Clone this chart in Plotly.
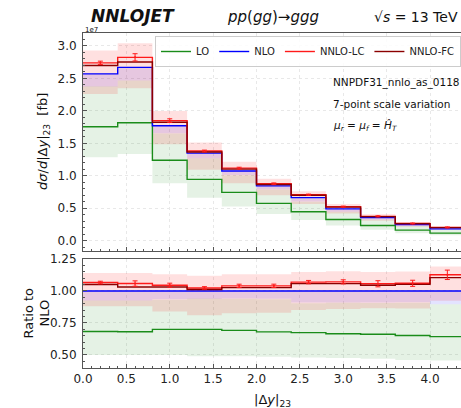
import plotly.graph_objects as go

# ---------------- data (cross sections in units of 1e7 fb) ----------------
bin_edges = [0.0, 0.4, 0.8, 1.2, 1.6, 2.0, 2.4, 2.8, 3.2, 3.6, 4.0, 4.4]

lo      = [1.755, 1.818, 1.239, 0.945, 0.744, 0.575, 0.447, 0.326, 0.235, 0.163, 0.117]
lo_dn   = [1.285, 1.335, 0.885, 0.662, 0.527, 0.410, 0.318, 0.233, 0.167, 0.115, 0.083]
lo_up   = [2.380, 2.470, 1.650, 1.270, 1.010, 0.790, 0.600, 0.445, 0.322, 0.227, 0.163]

nlo     = [2.570, 2.670, 1.770, 1.350, 1.075, 0.845, 0.663, 0.490, 0.355, 0.250, 0.182]
nlo_dn  = [2.377, 2.470, 1.655, 1.269, 1.011, 0.794, 0.603, 0.446, 0.323, 0.228, 0.163]
nlo_up  = [2.575, 2.675, 1.773, 1.352, 1.077, 0.847, 0.664, 0.491, 0.356, 0.251, 0.182]

nnlo_lc     = [2.740, 2.825, 1.850, 1.382, 1.118, 0.879, 0.709, 0.525, 0.375, 0.265, 0.205]
nnlo_lc_err = [0.026, 0.056, 0.028, 0.0135, 0.014, 0.011, 0.0086, 0.0078, 0.0085, 0.006, 0.0067]
nnlo_lc_dn  = [2.262, 2.350, 1.487, 1.094, 0.887, 0.701, 0.564, 0.421, 0.307, 0.216, 0.168]
nnlo_lc_up  = [2.930, 3.044, 2.000, 1.512, 1.215, 0.955, 0.762, 0.566, 0.408, 0.288, 0.217]

nnlo_fc = [2.699, 2.753, 1.825, 1.366, 1.103, 0.867, 0.701, 0.518, 0.371, 0.263, 0.201]

x_ticks = [0.0, 0.5, 1.0, 1.5, 2.0, 2.5, 3.0, 3.5, 4.0]
y_ticks_top = [0.0, 0.5, 1.0, 1.5, 2.0, 2.5, 3.0]
y_ticks_ratio = [0.50, 0.75, 1.00, 1.25]

# ---------------- helpers ----------------
centers = [(bin_edges[i] + bin_edges[i + 1]) / 2 for i in range(len(bin_edges) - 1)]

def steps(v):
    return list(v) + [v[-1]]

def ratio(v):
    return [a / b for a, b in zip(v, nlo)]

GREEN = "#1a8c1a"
BLUE = "#0000ff"
RED = "#ff1a1a"
DARKRED = "#8b0000"

fig = go.Figure()

def add_band(dn, up, color, xa, ya):
    fig.add_trace(go.Scatter(x=bin_edges, y=steps(dn), mode="lines",
                             line=dict(width=0, shape="hv"), showlegend=False,
                             hoverinfo="skip", xaxis=xa, yaxis=ya))
    fig.add_trace(go.Scatter(x=bin_edges, y=steps(up), mode="lines",
                             line=dict(width=0, shape="hv"), fill="tonexty",
                             fillcolor=color, showlegend=False,
                             hoverinfo="skip", xaxis=xa, yaxis=ya))

def add_line(v, color, name, xa, ya, legend=False, width=1.4):
    fig.add_trace(go.Scatter(x=bin_edges, y=steps(v), mode="lines", name=name,
                             line=dict(color=color, width=width, shape="hv"),
                             showlegend=legend, xaxis=xa, yaxis=ya))

def add_err(v, err, xa, ya):
    fig.add_trace(go.Scatter(x=centers, y=v, mode="markers",
                             marker=dict(color=RED, size=2),
                             error_y=dict(type="data", array=err, color=RED,
                                          thickness=1, width=2.5),
                             showlegend=False, xaxis=xa, yaxis=ya))

BAND_LO = "rgba(0,128,0,0.10)"
BAND_NLO = "rgba(0,0,255,0.11)"
BAND_NNLO = "rgba(255,0,0,0.12)"

# top panel
add_band(lo_dn, lo_up, BAND_LO, "x", "y")
add_band(nlo_dn, nlo_up, BAND_NLO, "x", "y")
add_band(nnlo_lc_dn, nnlo_lc_up, BAND_NNLO, "x", "y")
add_line(lo, GREEN, "LO", "x", "y", True)
add_line(nlo, BLUE, "NLO", "x", "y", True)
add_line(nnlo_lc, RED, "NNLO-LC", "x", "y", True)
add_line(nnlo_fc, DARKRED, "NNLO-FC", "x", "y", True)
add_err(nnlo_lc, nnlo_lc_err, "x", "y")

# ratio panel
add_band(ratio(lo_dn), ratio(lo_up), BAND_LO, "x2", "y2")
add_band(ratio(nlo_dn), ratio(nlo_up), BAND_NLO, "x2", "y2")
add_band(ratio(nnlo_lc_dn), ratio(nnlo_lc_up), BAND_NNLO, "x2", "y2")
add_line(ratio(lo), GREEN, "LO", "x2", "y2")
add_line(ratio(nlo), BLUE, "NLO", "x2", "y2")
add_line(ratio(nnlo_lc), RED, "NNLO-LC", "x2", "y2")
add_line(ratio(nnlo_fc), DARKRED, "NNLO-FC", "x2", "y2")
add_err(ratio(nnlo_lc), ratio(nnlo_lc_err), "x2", "y2")

# ---------------- layout ----------------
W, H = 461, 408
L, R, T, B = 83, 0, 33, 40
PW, PH = W - L - R, H - T - B
XMAX = PW / 86.75

def px(xp):
    return (xp - L) / PW

def py(yp):
    return (H - B - yp) / PH

FONT = "DejaVu Sans"
FRAME = "#555555"
GRID = "#e8e8e8"

common_x = dict(range=[0, XMAX], tickvals=x_ticks, showline=True, linecolor=FRAME,
                linewidth=1, mirror=True, ticks="inside", ticklen=4, tickcolor=FRAME,
                showgrid=True, gridcolor=GRID, griddash="dot", gridwidth=1,
                zeroline=False,
                minor=dict(ticks="inside", dtick=0.1, ticklen=2, tickcolor=FRAME,
                           showgrid=False))

fig.update_layout(
    width=W, height=H,
    margin=dict(l=L, r=R, t=T, b=B, pad=0),
    paper_bgcolor="white", plot_bgcolor="white",
    font=dict(family=FONT, size=12, color="#222222"),
    xaxis=dict(common_x, anchor="y", showticklabels=False, matches="x2"),
    xaxis2=dict(common_x, anchor="y2", tickformat=".1f",
                tickfont=dict(size=12)),
    yaxis=dict(domain=[py(250.7), 1.0], anchor="x", range=[-0.154, 3.2],
               tickvals=y_ticks_top, tickformat=".1f", showline=True,
               linecolor=FRAME, linewidth=1, ticks="inside", ticklen=4,
               tickcolor=FRAME, showgrid=True, gridcolor=GRID, griddash="dot",
               zeroline=False, ticklabelstandoff=3,
               minor=dict(ticks="inside", dtick=0.1, ticklen=2,
                          tickcolor=FRAME, showgrid=False)),
    yaxis2=dict(domain=[0, py(259)], anchor="x2", range=[0.398, 1.25],
                tickvals=y_ticks_ratio, tickformat=".2f", showline=True,
                linecolor=FRAME, linewidth=1, ticks="inside", ticklen=4,
                tickcolor=FRAME, showgrid=True, gridcolor=GRID,
                griddash="dot", zeroline=False, ticklabelstandoff=3,
                minor=dict(ticks="inside", dtick=0.05, ticklen=2,
                           tickcolor=FRAME, showgrid=False)),
    legend=dict(orientation="h", x=1.0, xanchor="right", y=py(36),
                yanchor="top", bgcolor="rgba(255,255,255,0.85)",
                bordercolor="#cccccc", borderwidth=1, traceorder="normal",
                font=dict(size=10, family=FONT, color="#222222"),
                itemwidth=30),
    showlegend=True,
)

ann = []
def text(t, x, y, size, xanchor="center", angle=0, yanchor="middle"):
    ann.append(dict(text=t, x=x, y=y, xref="paper", yref="paper",
                    showarrow=False, xanchor=xanchor, yanchor=yanchor,
                    textangle=angle, font=dict(size=size, family=FONT,
                                               color="#111111")))

text("<b><i>NNLOJET</i></b>", px(133), py(16), 17)
text("<i>pp</i>(<i>gg</i>)→<i>ggg</i>", px(273), py(17), 15)
text("√<i>s</i> = 13 TeV", px(416), py(17), 14)
text("1e7", px(83), py(30), 7, xanchor="left")
text("NNPDF31_nnlo_as_0118", px(331), py(82.5), 10.5, xanchor="left")
text("7-point scale variation", px(331), py(104), 10.5, xanchor="left")
text("<i>μ<sub>r</sub></i> = <i>μ<sub>f</sub></i> = <i>Ĥ<sub>T</sub></i>",
     px(331), py(126), 10.5, xanchor="left")
text("<i>dσ</i>/<i>d</i>|Δ<i>y</i>|<sub>23</sub>  [fb]", px(43), py(142), 13,
     angle=-90)
text("Ratio to<br>NLO", px(36), py(313.5), 13, angle=-90)
text("|Δ<i>y</i>|<sub>23</sub>", px(272), py(400), 13)
fig.update_layout(annotations=ann)

fig.write_html("out.html")
